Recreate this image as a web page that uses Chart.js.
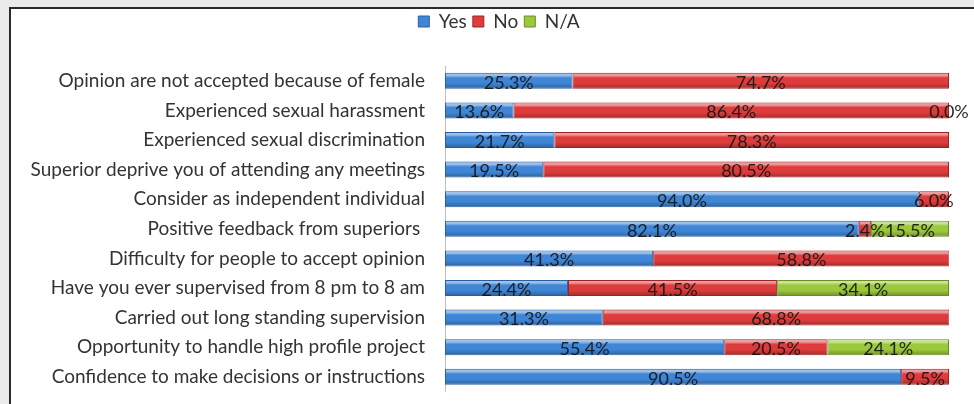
<!DOCTYPE html>
<html>
<head>
<meta charset="utf-8">
<script src="https://cdn.jsdelivr.net/npm/chart.js@4/dist/chart.umd.min.js"></script>
<style>
  html, body { margin: 0; padding: 0; background: #ebebeb; overflow: hidden; width: 974px; height: 404px; }
  #box { position: absolute; left: 9px; top: 7px; width: 1000px; height: 430px; background: #ffffff;
         border-left: 2px solid #2b2b2b; border-top: 2px solid #2b2b2b; }
  #c { position: absolute; left: 0; top: 0; }
</style>
</head>
<body>
<div id="box"><canvas id="c" width="976" height="414"></canvas></div>
<script>
const categories = [
  "Opinion are not accepted because of female",
  "Experienced sexual harassment",
  "Experienced sexual discrimination",
  "Superior deprive you of attending any meetings",
  "Consider as independent individual",
  "Positive feedback from superiors ",
  "Difficulty for people to accept opinion",
  "Have you ever supervised from 8 pm to 8 am",
  "Carried out long standing supervision",
  "Opportunity to handle high profile project",
  "Confidence to make decisions or instructions"
];
const seriesNames = ["Yes", "No", "N/A"];
const yesValues = [25.3, 13.6, 21.7, 19.5, 94.0, 82.1, 41.3, 24.4, 31.3, 55.4, 90.5];
const noValues  = [74.7, 86.4, 78.3, 80.5, 6.0, 2.4, 58.8, 41.5, 68.8, 20.5, 9.5];
const naValues  = [null, 0.0, null, null, null, 15.5, null, 34.1, null, 24.1, null];

const FONT = "Lato";

const shadePlugin = {
  id: 'shade',
  afterDatasetsDraw(chart) {
    const ctx = chart.ctx;
    chart.data.datasets.forEach((ds, di) => {
      const meta = chart.getDatasetMeta(di);
      meta.data.forEach((bar, i) => {
        if (ds.data[i] == null) return;
        const p = bar.getProps(['x', 'y', 'base', 'height'], true);
        const left = Math.min(p.x, p.base), right = Math.max(p.x, p.base);
        if (right - left < 0.5) return;
        const top = p.y - p.height / 2, bottom = p.y + p.height / 2;
        const g = ctx.createLinearGradient(0, top, 0, bottom);
        g.addColorStop(0, 'rgba(255,255,255,0.55)');
        g.addColorStop(0.18, 'rgba(255,255,255,0.45)');
        g.addColorStop(0.32, 'rgba(255,255,255,0.0)');
        g.addColorStop(0.65, 'rgba(0,0,0,0.0)');
        g.addColorStop(1, 'rgba(0,0,0,0.28)');
        ctx.save();
        ctx.fillStyle = g;
        ctx.fillRect(left + 1, top + 1, right - left - 2, bottom - top - 2);
        ctx.restore();
      });
    });
  }
};

const labelPlugin = {
  id: 'valueLabels',
  afterDatasetsDraw(chart) {
    const ctx = chart.ctx;
    ctx.save();
    ctx.font = "18px " + FONT;
    ctx.fillStyle = 'rgba(22,22,22,0.92)';
    ctx.textAlign = 'center';
    ctx.textBaseline = 'middle';
    chart.data.datasets.forEach((ds, di) => {
      const meta = chart.getDatasetMeta(di);
      meta.data.forEach((bar, i) => {
        const v = ds.data[i];
        if (v == null) return;
        const p = bar.getProps(['x', 'y', 'base'], true);
        ctx.fillText(v.toFixed(1) + '%', (p.x + p.base) / 2, p.y + 2);
      });
    });
    ctx.restore();
  }
};

const legendHeight = {
  id: 'legendHeight',
  beforeInit(chart) {
    const origFit = chart.legend.fit;
    chart.legend.fit = function () {
      origFit.bind(chart.legend)();
      this.height = 60;
    };
  }
};

new Chart(document.getElementById('c'), {
  type: 'bar',
  data: {
    labels: categories,
    datasets: [
      { label: seriesNames[0], data: yesValues, backgroundColor: '#3f86d6', borderColor: '#2a5e9e', borderWidth: 1, borderSkipped: false },
      { label: seriesNames[1], data: noValues,  backgroundColor: '#de3c3c', borderColor: '#9e2424', borderWidth: 1, borderSkipped: false },
      { label: seriesNames[2], data: naValues,  backgroundColor: '#9cc83c', borderColor: '#6a8e26', borderWidth: 1, borderSkipped: false }
    ]
  },
  options: {
    indexAxis: 'y',
    responsive: false,
    animation: false,
    devicePixelRatio: 1,
    layout: { padding: { left: 0, right: 0, top: -3, bottom: 0 } },
    datasets: { bar: { barPercentage: 0.9, categoryPercentage: 0.6 } },
    plugins: {
      tooltip: { enabled: false },
      legend: {
        position: 'top',
        labels: {
          font: { family: FONT, size: 19 },
          color: '#333333',
          boxWidth: 11,
          boxHeight: 11,
          padding: 6
        }
      }
    },
    scales: {
      x: { stacked: true, min: 0, max: 100, display: false },
      y: {
        stacked: true,
        afterFit(scale) { scale.width = 434; },
        grid: { display: false, drawTicks: false },
        border: { display: true, color: '#bdbdbd', width: 1 },
        ticks: { font: { family: FONT, size: 19 }, color: '#333333', padding: 20, autoSkip: false }
      },
      yRight: {
        type: 'category',
        position: 'right',
        labels: categories,
        afterFit(scale) { scale.width = 38; },
        grid: { display: false, drawTicks: false },
        border: { display: false },
        ticks: { display: false }
      }
    }
  },
  plugins: [legendHeight, shadePlugin, labelPlugin]
});
</script>
</body>
</html>
